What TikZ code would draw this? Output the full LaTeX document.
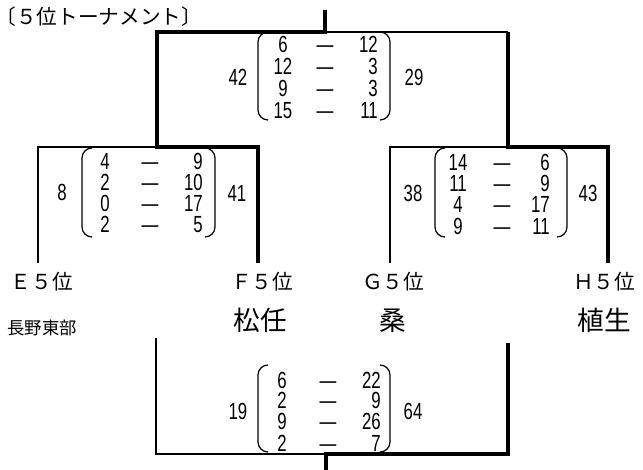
\documentclass[tikz,border=0pt]{standalone}
\usepackage{fontspec}
\setmainfont{Liberation Sans}
\newfontfamily\jpfont{Noto Sans CJK JP}
\newfontfamily\numfont[FakeStretch=0.72]{Liberation Sans}
\tikzset{
	win line/.style={line width=3.4pt, line join=miter},
	lose line/.style={line width=0.9pt, line join=miter},
	paren/.style={line width=0.9pt},
	score/.style={font=\numfont\fontsize{17.5}{18}\selectfont, inner sep=0pt, text height=12pt, text depth=0pt},
	team/.style={font=\jpfont\fontsize{15.5}{16}\selectfont, inner sep=0pt, text height=12pt, text depth=2pt},
	school/.style={font=\jpfont\fontsize{20}{21}\selectfont, inner sep=0pt, text height=16pt, text depth=2pt}
}

\begin{document}
\begin{tikzpicture}[x=0.75pt, y=-0.75pt]  % pixel units, y pointing down
\useasboundingbox (0,0) rectangle (643,470);

% title
\node[team] (title) at (99,18) {〔５位トーナメント〕};

% teams
\node[team] (e5) at (42,283) {Ｅ５位};
\node[team] (f5) at (262,283) {Ｆ５位};
\node[team] (g5) at (393,283) {Ｇ５位};
\node[team] (h5) at (604,283) {Ｈ５位};
\node[team, font=\jpfont\fontsize{13}{14}\selectfont] (nagano) at (42,328) {長野東部};
\node[school] (matto) at (260,321) {松任};
\node[school] (kuwa) at (393,321) {桑};
\node[school] (hanyu) at (604,321) {植生};

% bracket joints
\coordinate (top) at (325,10);
\coordinate (tl) at (157,32);
\coordinate (tm) at (325,32);
\coordinate (tr) at (508,32);
\coordinate (ef) at (157,147);
\coordinate (gh) at (508,147);
\coordinate (eo) at (38,147);
\coordinate (fo) at (258,147);
\coordinate (go) at (390,147);
\coordinate (ho) at (608,147);
\coordinate (ee) at (38,263);
\coordinate (fe) at (258,263);
\coordinate (ge) at (390,263);
\coordinate (he) at (608,263);
\coordinate (bl) at (156,338);
\coordinate (br) at (508,343);
\coordinate (bll) at (156,454);
\coordinate (bm) at (326,454);
\coordinate (brr) at (508,454);
\coordinate (bot) at (326,470);

% upper bracket
\draw[lose line] (ee) -- (eo) -- (ef);
\draw[lose line] (ge) -- (go) -- (gh);
\draw[lose line] (tm) -- (tr);
\draw[win line] (fe) -- (fo) -- (ef) -- (tl) -- (tm) -- (top);
\draw[win line] (he) -- (ho) -- (gh) -- (tr);

% lower bracket
\draw[lose line] (bl) -- (bll) -- (bm);
\draw[win line] (br) -- (brr) -- (bm) -- (bot);

% final: 42 - 29
\draw[paren] (268,32) to[out=180,in=90] (258,42) -- (258,110) to[out=-90,in=180] (268,120);
\draw[paren] (380,32) to[out=0,in=90] (390,42) -- (390,110) to[out=-90,in=0] (380,120);
\node[score] (tsa) at (238,78) {42};
\node[score] (tsb) at (414,78) {29};
\foreach \a/\b [count=\i] in {6/12,12/3,9/3,15/11} {
	\node[score] (ta\i) at (283,{23.3+21.7*\i}) {\a};
	\node[score] (td\i) at (325,{23.3+21.7*\i}) {—};
	\node[score, anchor=east] (tb\i) at (378,{23.3+21.7*\i}) {\b};
}

% E - F: 8 - 41
\draw[paren] (92,148) to[out=180,in=90] (82,158) -- (82,227) to[out=-90,in=180] (92,237);
\draw[paren] (205,148) to[out=0,in=90] (215,158) -- (215,227) to[out=-90,in=0] (205,237);
\node[score] (lsa) at (62,193) {8};
\node[score] (lsb) at (237,194) {41};
\foreach \a/\b [count=\i] in {4/9,2/10,0/17,2/5} {
	\node[score] (la\i) at (105,{141+21*\i}) {\a};
	\node[score] (ld\i) at (150,{141+21*\i}) {—};
	\node[score, anchor=east] (lb\i) at (203,{141+21*\i}) {\b};
}

% G - H: 38 - 43
\draw[paren] (445,148) to[out=180,in=90] (435,158) -- (435,227) to[out=-90,in=180] (445,237);
\draw[paren] (557,148) to[out=0,in=90] (567,158) -- (567,227) to[out=-90,in=0] (557,237);
\node[score] (rsa) at (413,194) {38};
\node[score] (rsb) at (588,194) {43};
\foreach \a/\b [count=\i] in {14/6,11/9,4/17,9/11} {
	\node[score] (ra\i) at (458,{141+21.3*\i}) {\a};
	\node[score] (rd\i) at (502,{141+21.3*\i}) {—};
	\node[score, anchor=east] (rb\i) at (550,{141+21.3*\i}) {\b};
}

% lower match: 19 - 64
\draw[paren] (268,365) to[out=180,in=90] (258,375) -- (258,442) to[out=-90,in=180] (268,452);
\draw[paren] (380,365) to[out=0,in=90] (390,375) -- (390,442) to[out=-90,in=0] (380,452);
\node[score] (bsa) at (238,412) {19};
\node[score] (bsb) at (413,412) {64};
\foreach \a/\b [count=\i] in {6/22,2/9,9/26,2/7} {
	\node[score] (ba\i) at (282,{359+21*\i}) {\a};
	\node[score] (bd\i) at (328,{359+21*\i}) {—};
	\node[score, anchor=east] (bb\i) at (381,{359+21*\i}) {\b};
}

\end{tikzpicture}
\end{document}
